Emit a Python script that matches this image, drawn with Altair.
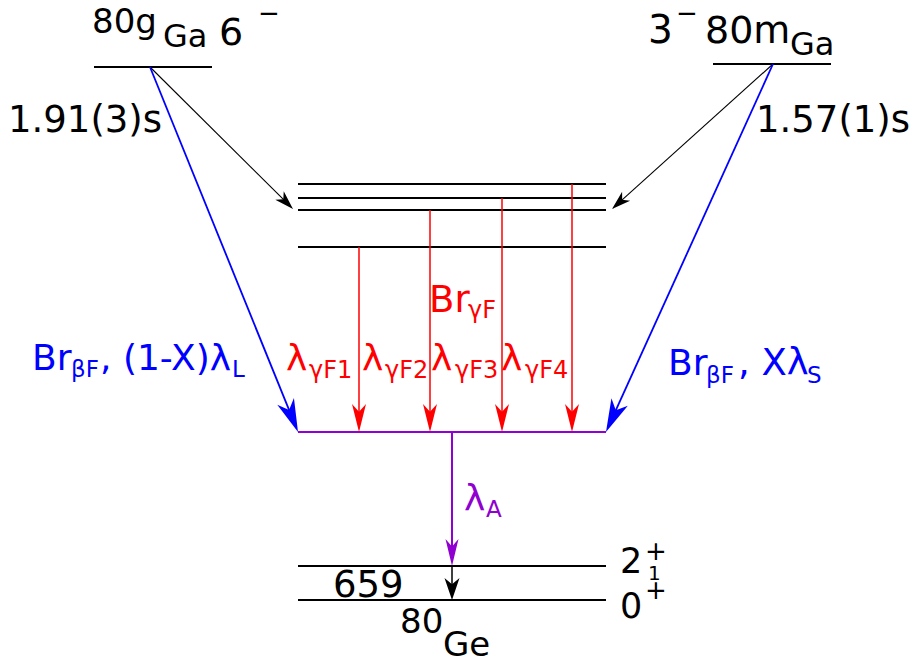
import math
import altair as alt
import pandas as pd

# ---------------- data (pixel-space diagram coordinates) ----------------
# energy levels
level_name = ["80gGa", "80mGa", "F4", "F3", "F2", "F1", "feed", "2+", "0+"]
level_x1 = [94, 713, 298, 298, 298, 298, 298, 298, 298]
level_x2 = [212, 831, 606, 606, 606, 606, 606, 606, 606]
level_y = [67, 64, 184, 198, 210, 247, 432, 566, 600]
level_color = ["black", "black", "black", "black", "black", "black", "#9000d0", "black", "black"]
level_width = [1.8, 1.8, 2, 2, 2, 2, 2, 2, 2]

# transitions (arrows)
tr_x1 = [150, 773, 150, 773, 359, 430, 502, 572, 452, 452]
tr_y1 = [67, 64, 67, 64, 247, 210, 198, 184, 432, 566]
tr_x2 = [293, 612, 298, 606, 359, 430, 502, 572, 452, 452]
tr_y2 = [209, 209, 432, 432, 432, 432, 432, 432, 566, 600]
tr_color = ["black", "black", "#0000ff", "#0000ff", "#ff0000", "#ff0000", "#ff0000", "#ff0000", "#9000d0", "black"]
tr_width = [1.1, 1.1, 1.8, 1.8, 1.5, 1.5, 1.5, 1.5, 2, 1.5]
head_w = [12, 12, 18, 18, 14, 14, 14, 14, 13, 15]
head_l = [19, 19, 33, 33, 28, 28, 28, 28, 27, 22]

# text pieces: text, left x, baseline y, font size, colour
lab_text = ["80g", "Ga", "6", "\u2212",
            "3", "\u2212", "80m", "Ga",
            "1.91(3)s", "1.57(1)s",
            "Br", "\u03b2F", ", (1-X)\u03bb", "L",
            "Br", "\u03b2F", ", X\u03bb", "S",
            "Br", "\u03b3F",
            "\u03bb", "\u03b3F1", "\u03bb", "\u03b3F2", "\u03bb", "\u03b3F3", "\u03bb", "\u03b3F4",
            "\u03bb", "A",
            "659", "80", "Ge",
            "2", "+", "1", "0", "+"]
lab_x = [92, 163, 219, 258,
         648, 676, 705, 790,
         8, 756,
         32, 71, 100, 232,
         668, 706, 738, 807,
         429, 468,
         286, 309, 362, 385, 431, 455, 501, 525,
         464, 486,
         333, 400, 443,
         620, 645, 648, 620, 645]
lab_y = [33, 47, 45, 22,
         43, 22, 43, 55,
         132, 132,
         370, 377, 370, 377,
         375, 383, 375, 383,
         312, 318,
         370, 378, 370, 378, 370, 378, 370, 378,
         510, 517,
         597, 633, 656,
         573, 560, 580, 618, 599]
lab_size = [34, 32, 38, 26,
            39, 26, 38, 32,
            37, 37,
            36, 23, 36, 23,
            36, 23, 37, 23,
            37, 24,
            36, 24, 36, 24, 36, 24, 36, 24,
            36, 23,
            37, 34, 34,
            35, 26, 20, 35, 26]
BLUE, RED, PUR = "#0000ff", "#ff0000", "#9000d0"
lab_color = ["black"] * 10 + [BLUE] * 8 + [RED] * 10 + [PUR] * 2 + ["black"] * 8

# ---------------- tables ----------------
levels = pd.DataFrame(dict(name=level_name, x1=level_x1, x2=level_x2, y=level_y,
                           color=level_color, w=level_width))
levels["y2"] = levels["y"]

rows = []
heads = []
for i in range(len(tr_x1)):
    dx = tr_x2[i] - tr_x1[i]
    dy = tr_y2[i] - tr_y1[i]
    n = math.hypot(dx, dy)
    ux, uy = dx / n, dy / n
    back = head_l[i] * 0.6
    rows.append(dict(x1=tr_x1[i], y1=tr_y1[i], x2=tr_x2[i] - ux * back, y2=tr_y2[i] - uy * back,
                     color=tr_color[i], w=tr_width[i]))
    ang = math.degrees(math.atan2(dx, -dy)) % 360
    s = 5.0  # sqrt(100)/2
    hw, hl = head_w[i] / 2 / s, head_l[i] / s
    path = f"M0,0L{hw:.3f},{hl:.3f}L0,{hl*0.72:.3f}L{-hw:.3f},{hl:.3f}Z"
    heads.append(dict(x=tr_x2[i], y=tr_y2[i], angle=ang, shape=path, color=tr_color[i]))
trans = pd.DataFrame(rows)
heads = pd.DataFrame(heads)
labels = pd.DataFrame(dict(text=lab_text, x=lab_x, y=lab_y, size=lab_size, color=lab_color))

W, H = 901, 650
xs = alt.Scale(domain=[8, 8 + W], nice=False, zero=False)
ys = alt.Scale(domain=[8, 8 + H], reverse=True, nice=False, zero=False)
noax = None

lev = alt.Chart(levels).mark_rule(strokeCap="butt").encode(
    x=alt.X("x1:Q", scale=xs, axis=noax), x2="x2:Q",
    y=alt.Y("y:Q", scale=ys, axis=noax), y2="y2:Q",
    color=alt.Color("color:N", scale=None),
    strokeWidth=alt.StrokeWidth("w:Q", scale=None),
)
shafts = alt.Chart(trans).mark_rule(strokeCap="butt").encode(
    x=alt.X("x1:Q", scale=xs, axis=noax), x2="x2:Q",
    y=alt.Y("y1:Q", scale=ys, axis=noax), y2="y2:Q",
    color=alt.Color("color:N", scale=None),
    strokeWidth=alt.StrokeWidth("w:Q", scale=None),
)
tips = alt.Chart(heads).mark_point(filled=True, opacity=1, strokeWidth=0, size=100).encode(
    x=alt.X("x:Q", scale=xs, axis=noax),
    y=alt.Y("y:Q", scale=ys, axis=noax),
    shape=alt.Shape("shape:N", scale=None),
    angle=alt.Angle("angle:Q", scale=None),
    color=alt.Color("color:N", scale=None),
)
txt = alt.Chart(labels).mark_text(align="left", baseline="alphabetic", font="DejaVu Sans").encode(
    x=alt.X("x:Q", scale=xs, axis=noax),
    y=alt.Y("y:Q", scale=ys, axis=noax),
    text="text:N",
    size=alt.Size("size:Q", scale=None),
    color=alt.Color("color:N", scale=None),
)

chart = alt.layer(lev, shafts, tips, txt).properties(
    width=W, height=H, padding=0, background="white",
    autosize=alt.AutoSizeParams(type="none"),
).configure_view(stroke=None)

chart.save("out.html", embed_options={"renderer": "svg", "actions": False})
